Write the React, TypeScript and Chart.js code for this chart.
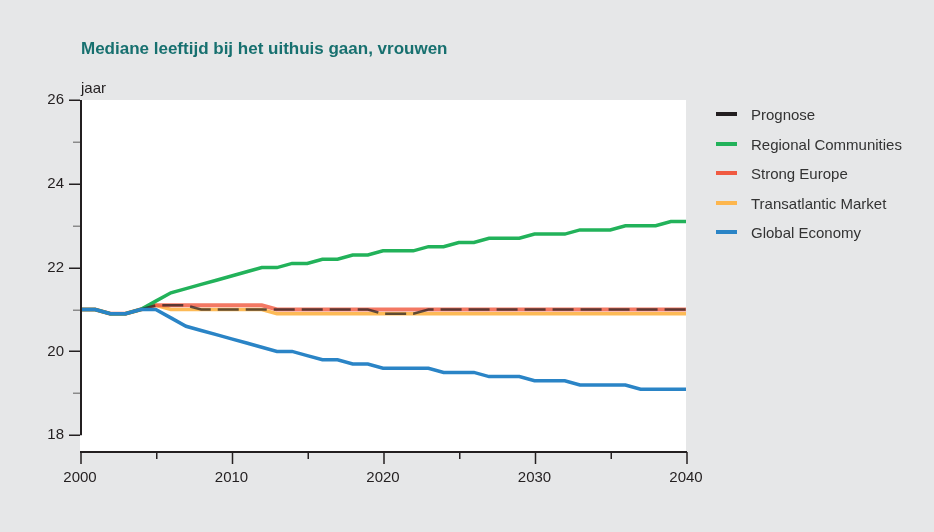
import React, { useEffect, useRef } from 'react';
import { Chart, registerables } from 'chart.js';

Chart.register(...registerables);

const years = [
  2000, 2001, 2002, 2003, 2004, 2005, 2006, 2007, 2008, 2009,
  2010, 2011, 2012, 2013, 2014, 2015, 2016, 2017, 2018, 2019,
  2020, 2021, 2022, 2023, 2024, 2025, 2026, 2027, 2028, 2029,
  2030, 2031, 2032, 2033, 2034, 2035, 2036, 2037, 2038, 2039, 2040,
];

const prognose = [
  21.0, 21.0, 20.9, 20.9, 21.0, 21.1, 21.1, 21.1, 21.0, 21.0,
  21.0, 21.0, 21.0, 21.0, 21.0, 21.0, 21.0, 21.0, 21.0, 21.0,
  20.9, 20.9, 20.9, 21.0, 21.0, 21.0, 21.0, 21.0, 21.0, 21.0,
  21.0, 21.0, 21.0, 21.0, 21.0, 21.0, 21.0, 21.0, 21.0, 21.0, 21.0,
];

const regionalCommunities = [
  21.0, 21.0, 20.9, 20.9, 21.0, 21.2, 21.4, 21.5, 21.6, 21.7,
  21.8, 21.9, 22.0, 22.0, 22.1, 22.1, 22.2, 22.2, 22.3, 22.3,
  22.4, 22.4, 22.4, 22.5, 22.5, 22.6, 22.6, 22.7, 22.7, 22.7,
  22.8, 22.8, 22.8, 22.9, 22.9, 22.9, 23.0, 23.0, 23.0, 23.1, 23.1,
];

const strongEurope = [
  21.0, 21.0, 20.9, 20.9, 21.0, 21.1, 21.1, 21.1, 21.1, 21.1,
  21.1, 21.1, 21.1, 21.0, 21.0, 21.0, 21.0, 21.0, 21.0, 21.0,
  21.0, 21.0, 21.0, 21.0, 21.0, 21.0, 21.0, 21.0, 21.0, 21.0,
  21.0, 21.0, 21.0, 21.0, 21.0, 21.0, 21.0, 21.0, 21.0, 21.0, 21.0,
];

const transatlanticMarket = [
  21.0, 21.0, 20.9, 20.9, 21.0, 21.1, 21.0, 21.0, 21.0, 21.0,
  21.0, 21.0, 21.0, 20.9, 20.9, 20.9, 20.9, 20.9, 20.9, 20.9,
  20.9, 20.9, 20.9, 20.9, 20.9, 20.9, 20.9, 20.9, 20.9, 20.9,
  20.9, 20.9, 20.9, 20.9, 20.9, 20.9, 20.9, 20.9, 20.9, 20.9, 20.9,
];

const globalEconomy = [
  21.0, 21.0, 20.9, 20.9, 21.0, 21.0, 20.8, 20.6, 20.5, 20.4,
  20.3, 20.2, 20.1, 20.0, 20.0, 19.9, 19.8, 19.8, 19.7, 19.7,
  19.6, 19.6, 19.6, 19.6, 19.5, 19.5, 19.5, 19.4, 19.4, 19.4,
  19.3, 19.3, 19.3, 19.2, 19.2, 19.2, 19.2, 19.1, 19.1, 19.1, 19.1,
];

const yLabelTicks = [18, 20, 22, 24, 26];
const yMinorTicks = [19, 21, 23, 25];
const xLabelTicks = [2000, 2010, 2020, 2030, 2040];
const xMinorTicks = [2005, 2015, 2025, 2035];

const seriesNames = ['Prognose', 'Regional Communities', 'Strong Europe', 'Transatlantic Market', 'Global Economy'];
const seriesColors = ['#231f20', '#22b25a', '#f05a41', '#fdb64d', '#2a84c6'];

const FONT = '"Liberation Sans", Arial, sans-serif';
const DARK = '#231f20';

const axesPlugin = {
  id: 'customAxes',
  beforeDraw(chart: any) {
    const { ctx, chartArea } = chart;
    ctx.save();
    ctx.fillStyle = '#ffffff';
    ctx.fillRect(chartArea.left, chartArea.top, chartArea.right - chartArea.left, chartArea.bottom - chartArea.top);
    ctx.restore();
  },
  afterDraw(chart: any) {
    const { ctx, chartArea } = chart;
    const xs = chart.scales.x;
    const ys = chart.scales.y;
    const { left, right, bottom } = chartArea;
    ctx.save();
    ctx.lineCap = 'butt';
    ctx.strokeStyle = DARK;
    ctx.lineWidth = 2;
    ctx.beginPath();
    ctx.moveTo(left + 1, ys.getPixelForValue(26));
    ctx.lineTo(left + 1, ys.getPixelForValue(18));
    ctx.stroke();
    ctx.lineWidth = 1.5;
    yLabelTicks.forEach((v) => {
      const y = Math.round(ys.getPixelForValue(v)) + 0.25;
      ctx.strokeStyle = DARK;
      ctx.beginPath();
      ctx.moveTo(left - 11, y);
      ctx.lineTo(left, y);
      ctx.stroke();
    });
    yMinorTicks.forEach((v) => {
      const y = Math.round(ys.getPixelForValue(v)) + 0.25;
      ctx.strokeStyle = '#8a8a8a';
      ctx.beginPath();
      ctx.moveTo(left - 7, y);
      ctx.lineTo(left, y);
      ctx.stroke();
    });
    ctx.strokeStyle = DARK;
    ctx.lineWidth = 2;
    ctx.beginPath();
    ctx.moveTo(left, bottom);
    ctx.lineTo(right + 1, bottom);
    ctx.stroke();
    ctx.lineWidth = 1.5;
    xLabelTicks.forEach((v) => {
      const x = xs.getPixelForValue(v) + 1;
      ctx.beginPath();
      ctx.moveTo(x, bottom);
      ctx.lineTo(x, bottom + 12);
      ctx.stroke();
    });
    xMinorTicks.forEach((v) => {
      const x = xs.getPixelForValue(v) + 1;
      ctx.beginPath();
      ctx.moveTo(x, bottom);
      ctx.lineTo(x, bottom + 7);
      ctx.stroke();
    });
    ctx.restore();
  },
};

function toPoints(values: number[]) {
  return values.map((v, i) => ({ x: years[i], y: v }));
}

export default function App() {
  const canvasRef = useRef<HTMLCanvasElement | null>(null);

  useEffect(() => {
    const canvas = canvasRef.current;
    if (!canvas) return;
    const chart = new Chart(canvas, {
      type: 'line',
      data: {
        datasets: [
          {
            label: seriesNames[0],
            data: toPoints(prognose),
            borderColor: 'rgba(35,31,32,0.72)',
            borderWidth: 2.5,
            borderDash: [21, 7],
            pointRadius: 0,
            tension: 0,
            order: 1,
          },
          {
            label: seriesNames[1],
            data: toPoints(regionalCommunities),
            borderColor: seriesColors[1],
            borderWidth: 3.5,
            pointRadius: 0,
            tension: 0,
            order: 2,
          },
          {
            label: seriesNames[2],
            data: toPoints(strongEurope),
            borderColor: 'rgba(240,90,65,0.82)',
            borderWidth: 4,
            pointRadius: 0,
            tension: 0,
            order: 3,
          },
          {
            label: seriesNames[3],
            data: toPoints(transatlanticMarket),
            borderColor: 'rgba(253,182,77,0.95)',
            borderWidth: 3.5,
            pointRadius: 0,
            tension: 0,
            order: 4,
          },
          {
            label: seriesNames[4],
            data: toPoints(globalEconomy),
            borderColor: seriesColors[4],
            borderWidth: 3.5,
            pointRadius: 0,
            tension: 0,
            order: 0,
          },
        ],
      },
      options: {
        responsive: false,
        animation: false,
        layout: { padding: { left: 0, right: 248, top: 100, bottom: 0 } },
        plugins: {
          legend: { display: false },
          title: { display: false },
          tooltip: { enabled: false },
        },
        scales: {
          x: {
            type: 'linear',
            min: 2000,
            max: 2040,
            afterFit: (scale: any) => { scale.height = 80; },
            afterBuildTicks: (scale: any) => { scale.ticks = xLabelTicks.map((v) => ({ value: v })); },
            border: { display: false },
            grid: { display: true, drawOnChartArea: false, drawTicks: false, color: 'rgba(0,0,0,0)' },
            ticks: {
              padding: 17,
              color: DARK,
              font: { family: FONT, size: 15 },
              maxRotation: 0,
              callback: (v: any) => String(v),
            },
          },
          y: {
            type: 'linear',
            min: 17.6,
            max: 26,
            afterFit: (scale: any) => { scale.width = 80; },
            afterBuildTicks: (scale: any) => { scale.ticks = yLabelTicks.map((v) => ({ value: v })); },
            border: { display: false },
            grid: { display: true, drawOnChartArea: false, drawTicks: false, color: 'rgba(0,0,0,0)' },
            ticks: {
              padding: 16,
              color: DARK,
              font: { family: FONT, size: 15 },
              callback: (v: any) => String(v),
            },
          },
        },
      },
      plugins: [axesPlugin],
    });
    return () => chart.destroy();
  }, []);

  const legendTop = 105;
  const legendStep = 29.5;

  return (
    <div
      style={{
        position: 'fixed',
        left: 0,
        top: 0,
        width: 934,
        height: 532,
        background: '#e6e7e8',
        fontFamily: FONT,
        overflow: 'hidden',
      }}
    >
      <canvas ref={canvasRef} width={934} height={532} style={{ display: 'block', width: 934, height: 532 }} />
      <div
        style={{
          position: 'absolute',
          left: 81,
          top: 39,
          fontSize: 17,
          lineHeight: '20px',
          fontWeight: 'bold',
          color: '#17706f',
          whiteSpace: 'nowrap',
        }}
      >
        Mediane leeftijd bij het uithuis gaan, vrouwen
      </div>
      <div
        style={{
          position: 'absolute',
          left: 81,
          top: 79,
          fontSize: 15,
          lineHeight: '18px',
          color: DARK,
          whiteSpace: 'nowrap',
        }}
      >
        jaar
      </div>
      {seriesNames.map((name, i) => (
        <React.Fragment key={name}>
          <div
            style={{
              position: 'absolute',
              left: 716,
              top: legendTop + i * legendStep + 7,
              width: 21,
              height: 4,
              background: seriesColors[i],
            }}
          />
          <div
            style={{
              position: 'absolute',
              left: 751,
              top: legendTop + i * legendStep,
              fontSize: 15,
              lineHeight: '20px',
              color: '#333333',
              whiteSpace: 'nowrap',
            }}
          >
            {name}
          </div>
        </React.Fragment>
      ))}
    </div>
  );
}
